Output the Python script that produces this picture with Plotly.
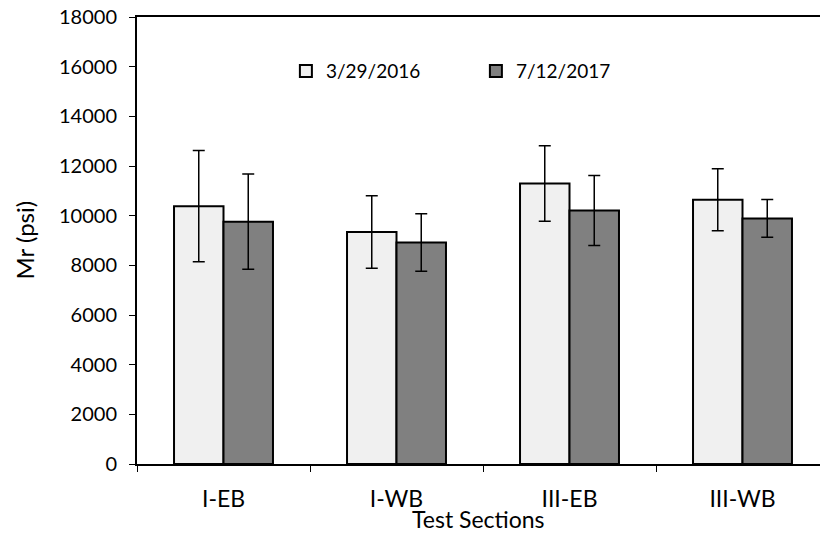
import plotly.graph_objects as go

# Resilient modulus by test section, two survey dates
sections = ["I-EB", "I-WB", "III-EB", "III-WB"]
dates = ["3/29/2016", "7/12/2017"]
mr_2016 = [10380, 9340, 11300, 10640]
err_2016 = [2240, 1460, 1520, 1245]
mr_2017 = [9760, 8920, 10210, 9890]
err_2017 = [1915, 1155, 1410, 760]

x_title = "Test Sections"
y_title = "Mr (psi)"

FONT = "Lato, Open Sans, sans-serif"

fig = go.Figure()
for name, vals, errs, color in [
    (dates[0], mr_2016, err_2016, "#F0F0F0"),
    (dates[1], mr_2017, err_2017, "#808080"),
]:
    fig.add_trace(go.Bar(
        x=sections, y=vals, name=name,
        marker=dict(color=color, line=dict(color="black", width=2)),
        error_y=dict(type="data", array=errs, visible=True,
                     color="black", thickness=1.5, width=6),
    ))

# axis titles placed as paper annotations for tight control of their spacing
fig.add_annotation(text=x_title, xref="paper", yref="paper", x=0.5, y=-0.124,
                   xanchor="center", yanchor="middle", showarrow=False,
                   font=dict(size=23))
fig.add_annotation(text=y_title, xref="paper", yref="paper", x=-0.1654, y=0.5,
                   xanchor="center", yanchor="middle", textangle=-90,
                   showarrow=False, font=dict(size=24))

fig.update_layout(
    width=820, height=537,
    margin=dict(l=137, r=0, t=17, b=73),
    paper_bgcolor="white", plot_bgcolor="white",
    barmode="group", bargap=0.428, bargroupgap=0,
    font=dict(family=FONT, size=20, color="black"),
    showlegend=True,
    legend=dict(orientation="h", x=0.218, y=0.879, xanchor="left", yanchor="middle",
                font=dict(size=19), bgcolor="rgba(0,0,0,0)",
                entrywidth=145, entrywidthmode="pixels", itemsizing="constant"),
    xaxis=dict(
        range=[-0.5, 3.448], showline=True, linecolor="black", linewidth=2,
        mirror=True, ticks="outside", tickson="boundaries", ticklen=6,
        tickcolor="black", tickwidth=1, showgrid=False,
        tickfont=dict(size=23), ticklabelstandoff=13,
    ),
    yaxis=dict(
        range=[0, 18000], dtick=2000, tickformat="d", showline=True,
        linecolor="black", linewidth=2, ticks="outside", ticklen=6,
        tickcolor="black", tickwidth=1, showgrid=False, zeroline=False,
        tickfont=dict(size=20), ticklabelstandoff=8,
    ),
)

fig.write_html("out.html")
